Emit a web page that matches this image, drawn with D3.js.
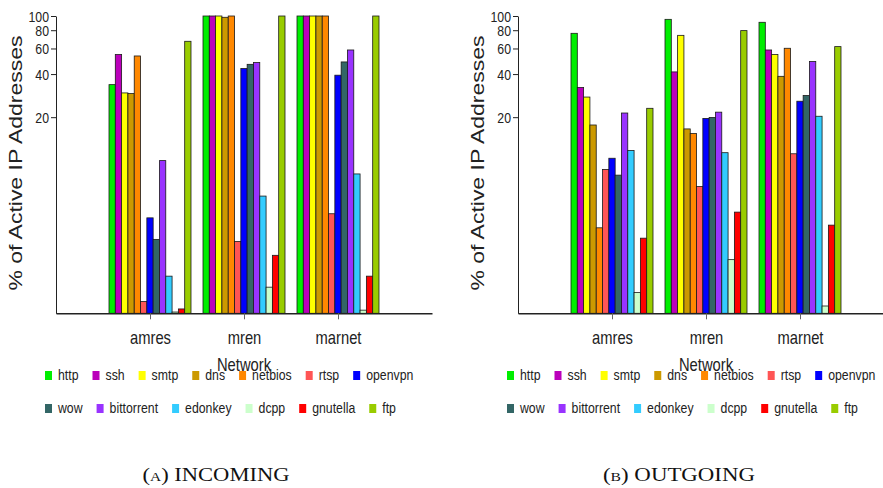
<!DOCTYPE html>
<html>
<head>
<meta charset="utf-8">
<script src="https://cdn.jsdelivr.net/npm/d3@7/dist/d3.min.js"></script>
<style>
	body { margin: 0; background: #fff; }
	text { font-family: "Liberation Sans", Arial, sans-serif; fill: #222; }
	.caption { font-family: "Liberation Serif", "DejaVu Serif", serif; font-variant: small-caps; fill: #111; }
</style>
</head>
<body>
<svg id="chart" width="883" height="488"></svg>
<script>
const networks = ["amres", "mren", "marnet"];
const protocols = ["http", "ssh", "smtp", "dns", "netbios", "rtsp", "openvpn",
	"wow", "bittorrent", "edonkey", "dcpp", "gnutella", "ftp"];
const protocolColors = ["#00ee00", "#bb00bb", "#ffff00", "#cc9900", "#ff8800", "#ff5555", "#0000ff",
	"#336666", "#9933ff", "#33ccff", "#ccffcc", "#ff0000", "#99cc00"];

// % of active IP addresses, one value per protocol
const incomingAmres  = [33.8, 54.5, 29.6, 29.3, 53.3, 0.2, 3.4, 2.15, 9.7, 0.78, 0.02, 0.07, 67.2];
const incomingMren   = [100, 100, 100, 98, 100, 2.05, 43.7, 46.7, 48, 5.17, 0.5, 1.46, 100];
const incomingMarnet = [100, 100, 100, 100, 100, 3.69, 39.3, 48.5, 58.6, 7.7, 0.05, 0.78, 100];
const outgoingAmres  = [76.2, 32.3, 27.7, 17.6, 2.77, 8.33, 10.1, 7.54, 21.4, 11.5, 0.38, 2.21, 23.1];
const outgoingMren   = [94.9, 41.4, 73.8, 16.5, 15.3, 6.16, 19.6, 19.9, 21.7, 11.1, 1.3, 3.81, 79.5];
const outgoingMarnet = [90.6, 58.6, 54.5, 38.6, 60.2, 10.9, 25.9, 28.4, 48.8, 20.3, 0.12, 2.93, 61.8];

const yTicks = [20, 40, 60, 80, 100];
const captions = ["(a) INCOMING", "(b) OUTGOING"];

let svg = d3.select('#chart'),
	panelShift = 462,
	squeeze = 0.82;

let y = d3.scaleSymlog()
	.constant(1)
	.domain([0, 100])
	.range([313.3, 16]);

let xNet = d3.scalePoint()
	.domain(networks)
	.range([56, 432])
	.padding(1);

let xProto = d3.scaleBand()
	.domain(protocols)
	.range([-41, 41]);

function drawPanel(idx, seriesByNet) {
	let g = svg.append('g')
		.attr('transform', `translate(${idx * panelShift}, 0)`);

	let barData = [];
	networks.forEach((net, ni) => {
		protocols.forEach((p, pi) => {
			barData.push({ net: net, proto: p, color: protocolColors[pi], value: seriesByNet[ni][pi] });
		});
	});

	// bars
	g.selectAll('.bar')
		.data(barData)
		.enter()
		.append('rect')
		.attr('class', 'bar')
		.attr('x', d => xNet(d.net) + xProto(d.proto))
		.attr('y', d => y(d.value))
		.attr('width', xProto.bandwidth())
		.attr('height', d => y(0) - y(d.value))
		.attr('fill', d => d.color)
		.attr('stroke', '#1a1a1a')
		.attr('stroke-width', 0.8);

	// y axis
	g.append('g')
		.attr('transform', 'translate(56, 0)')
		.call(d3.axisLeft(y).tickValues(yTicks).tickSize(5).tickSizeOuter(0))
		.call(a => a.select('.domain').attr('stroke', '#222'))
		.call(a => a.selectAll('line').attr('stroke', '#222'))
		.call(a => a.selectAll('text')
			.attr('x', null)
			.attr('dy', '0.36em')
			.attr('transform', `translate(-7, 0) scale(${squeeze}, 1)`)
			.style('font-size', '15px')
			.style('font-family', '"Liberation Sans", Arial, sans-serif')
			.attr('fill', '#222'));

	// x axis
	g.append('g')
		.attr('transform', `translate(0, ${y(0)})`)
		.call(d3.axisBottom(xNet).tickSize(6).tickSizeOuter(0))
		.call(a => a.select('.domain').attr('stroke', '#222').attr('stroke-width', 1.6))
		.call(a => a.selectAll('line').attr('stroke', '#666'))
		.call(a => a.selectAll('text')
			.attr('y', 31)
			.attr('dy', 0)
			.attr('transform', `scale(${squeeze}, 1)`)
			.style('font-size', '18px')
			.style('font-family', '"Liberation Sans", Arial, sans-serif')
			.attr('fill', '#222'));

	g.append('text')
		.attr('transform', `translate(22, 163) rotate(-90) scale(1, ${squeeze})`)
		.attr('text-anchor', 'middle')
		.style('font-size', '23px')
		.text('% of Active IP Addresses');

	g.append('text')
		.attr('transform', `translate(244, 371) scale(${squeeze}, 1)`)
		.attr('text-anchor', 'middle')
		.style('font-size', '18px')
		.text('Network');

	// legend, two rows
	let rows = [protocols.slice(0, 7), protocols.slice(7)];
	rows.forEach((row, ri) => {
		let lx = 45,
			baseY = 380 + ri * 33;
		row.forEach(p => {
			let pi = protocols.indexOf(p);
			g.append('rect')
				.attr('x', lx)
				.attr('y', baseY - 9)
				.attr('width', 7)
				.attr('height', 9)
				.attr('fill', protocolColors[pi]);
			let t = g.append('text')
				.attr('transform', `translate(${lx + 13}, ${baseY}) scale(${squeeze}, 1)`)
				.style('font-size', '15px')
				.text(p);
			lx += 13 + t.node().getComputedTextLength() * squeeze + 14;
		});
	});

	g.append('text')
		.attr('class', 'caption')
		.attr('x', idx == 0 ? 216 : 679 - panelShift)
		.attr('y', 481)
		.attr('text-anchor', 'middle')
		.attr('textLength', idx == 0 ? 147 : 152)
		.attr('lengthAdjust', 'spacingAndGlyphs')
		.style('font-size', '19px')
		.text(captions[idx]);
}

drawPanel(0, [incomingAmres, incomingMren, incomingMarnet]);
drawPanel(1, [outgoingAmres, outgoingMren, outgoingMarnet]);
</script>
</body>
</html>
